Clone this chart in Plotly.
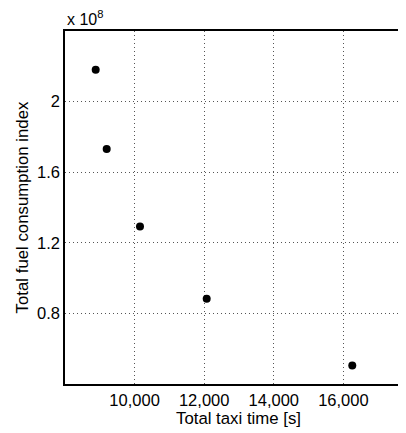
import plotly.graph_objects as go

taxi_time = [8882, 9198, 10155, 12072, 16256]
fuel_index = [2.18e8, 1.731e8, 1.292e8, 0.883e8, 0.505e8]

x_ticks = [10000, 12000, 14000, 16000]
x_tick_labels = ["10,000", "12,000", "14,000", "16,000"]
y_ticks = [0.8e8, 1.2e8, 1.6e8, 2.0e8]
y_tick_labels = ["0.8", "1.2", "1.6", "2"]

FONT = "Liberation Sans, Arial, Helvetica, sans-serif"

fig = go.Figure()
fig.add_trace(go.Scatter(
    x=taxi_time, y=fuel_index, mode="markers",
    marker=dict(color="black", size=8, symbol="circle"),
    showlegend=False,
))

# page body has an 8px margin; figure sized to fit the 406x433 window
fig.update_layout(
    width=398, height=425,
    margin=dict(l=57, r=0, t=23, b=49, autoexpand=False),
    paper_bgcolor="white", plot_bgcolor="white",
    font=dict(family=FONT, size=16.5, color="black"),
    xaxis=dict(
        range=[8000, 17800], tickvals=x_ticks, ticktext=x_tick_labels,
        tickfont=dict(size=16.5),
        showgrid=True, gridcolor="#555555", griddash="1px,3px", gridwidth=1,
        showline=True, linecolor="black", linewidth=1.5, mirror=True,
        ticks="", zeroline=False, automargin=False,
    ),
    yaxis=dict(
        range=[0.4e8, 2.4e8], tickvals=y_ticks, ticktext=y_tick_labels,
        tickfont=dict(size=16.5),
        showgrid=True, gridcolor="#555555", griddash="1px,3px", gridwidth=1,
        showline=True, linecolor="black", linewidth=1.5, mirror=False,
        ticks="", zeroline=False, automargin=False,
        title=dict(text="Total fuel consumption index", standoff=4, font=dict(size=16.8)),
    ),
    annotations=[
        dict(
            text="x 10<sup>8</sup>", xref="paper", yref="paper",
            x=0, y=1, xanchor="left", yanchor="bottom", yshift=1,
            showarrow=False, font=dict(family=FONT, size=16, color="black"),
        ),
        dict(
            text="Total taxi time [s]", xref="x", yref="paper",
            x=13000, y=0, xanchor="center", yanchor="middle", yshift=-34,
            showarrow=False, font=dict(family=FONT, size=16.8, color="black"),
        ),
    ],
)

fig.write_html("out.html")
